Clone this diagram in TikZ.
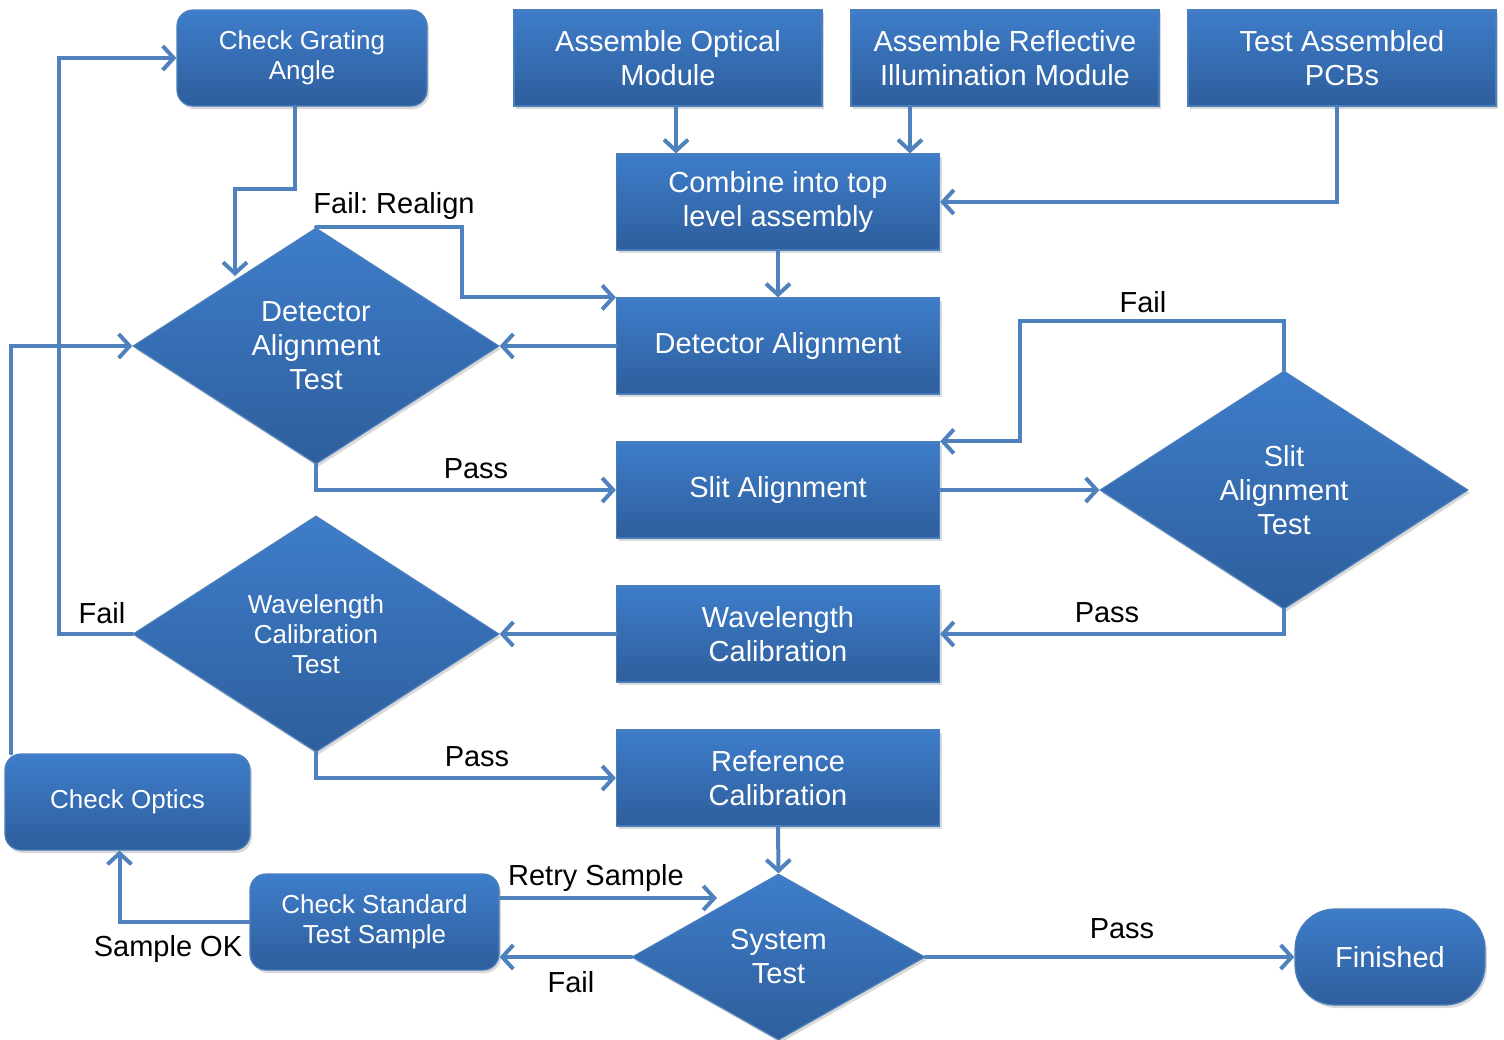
\documentclass[tikz,border=0pt]{standalone}
\usepackage{fontspec}
\setmainfont{Liberation Sans}
\usetikzlibrary{shapes.geometric,arrows.meta,shadows}
\frenchspacing
\definecolor{topblue}{HTML}{3E7DCA}
\definecolor{botblue}{HTML}{2E5E9C}
\definecolor{edgeblue}{HTML}{4A7EBB}
\definecolor{arrblue}{HTML}{4F81BD}
\tikzset{
  blk/.style={top color=topblue, bottom color=botblue, draw=edgeblue, line width=0.6pt,
    text=white, align=center, inner sep=2pt,
    drop shadow={shadow xshift=1pt, shadow yshift=-1.5pt, opacity=0.3}},
  sq/.style={blk, rectangle, minimum width=154pt, minimum height=48pt},
  sqb/.style={blk, rectangle, minimum width=161.5pt, minimum height=48pt},
  rnd/.style={blk, rectangle, rounded corners=8pt, minimum height=48pt},
  dia/.style={blk, diamond, inner sep=0pt, aspect=1.5},
  big/.style={font=\fontsize{14.5}{17}\selectfont},
  small/.style={font=\fontsize{13}{15}\selectfont},
  lbl/.style={font=\fontsize{14.5}{17}\selectfont, text=black, inner sep=0pt},
  arr/.style={draw=arrblue, line width=2pt, line cap=round,
    -{Straight Barb[length=5.5pt,width=12pt,line width=2pt]}},
}
\begin{document}
\begin{tikzpicture}[x=0.5pt,y=-0.5pt]
\useasboundingbox (0,0) rectangle (1504,1039);
% nodes
\node[rnd, small, minimum width=125pt] (cga) at (302,58) {Check Grating\\Angle};
\node[sq, big] (aom) at (668,58) {Assemble Optical\\Module};
\node[sq, big] (aim) at (1005,58) {Assemble Reflective\\Illumination Module};
\node[sq, big] (tpc) at (1342,58) {Test Assembled\\PCBs};
\node[sqb, big] (cmb) at (778,202) {Combine into top\\level assembly};
\node[sqb, big] (da) at (778,346) {\raisebox{-1.5pt}{Detector Alignment}};
\node[dia, big, minimum width=183pt, minimum height=118pt] (dat) at (316,346) {Detector\\Alignment\\Test};
\node[sqb, big] (sa) at (778,490) {\raisebox{-1.5pt}{Slit Alignment}};
\node[dia, big, minimum width=184pt, minimum height=119pt] (sat) at (1284,490) {Slit\\Alignment\\Test};
\node[sqb, big] (wc) at (778,634) {Wavelength\\Calibration};
\node[dia, small, minimum width=183pt, minimum height=118pt] (wct) at (316,634) {Wavelength\\Calibration\\Test};
\node[sqb, big] (rc) at (778,778) {Reference\\Calibration};
\node[rnd, small, minimum width=122.5pt] (co) at (127.5,802) {\raisebox{-1pt}{Check Optics}};
\node[rnd, small, minimum width=124.5pt] (cst) at (374.5,922) {Check Standard\\Test Sample};
\node[dia, big, minimum width=146.5pt, minimum height=83pt] (st) at (778.5,957) {System\\Test};
\node[blk, rectangle, rounded corners=20pt, big, minimum width=95pt, minimum height=48pt] (fin) at (1390,957) {\raisebox{-1pt}{Finished}};
% coordinates
\coordinate (datin) at (235,276);
\coordinate (retryend) at (717,898);
% connectors
\draw[arr] ([xshift=-3.5pt]cga.south) -- ++(0,82) -| (datin);
\draw[arr] ([xshift=4pt]aom.south) -- ([xshift=4pt]aom.south |- cmb.north);
\draw[arr] ([xshift=-47.5pt]aim.south) -- ([xshift=-47.5pt]aim.south |- cmb.north);
\draw[arr] ([xshift=-2.5pt]tpc.south) |- (cmb.east);
\draw[arr] (cmb.south) -- (da.north);
\draw[arr] (dat.north) -- ++(146,0) |- (da.north west);
\draw[arr] (da.west) -- (dat.east);
\draw[arr] (dat.south) |- (sa.west);
\draw[arr] (sa.east) -- (sat.west);
\draw[arr] (sat.north) |- (1020,321) |- (sa.north east);
\draw[arr] (sat.south) |- (wc.east);
\draw[arr] (wc.west) -- (wct.east);
\draw[arr] (wct.west) -- ++(-73,0) |- (cga.west);
\draw[arr] (wct.south) |- (rc.west);
\draw[arr] (rc.south) -- (st.north);
\draw[arr] (st.west) -- (cst.east |- st.west);
\draw[arr] ([yshift=12pt]cst.east) -- (retryend);
\draw[arr] (cst.west) -| ([xshift=-4pt]co.south);
\draw[arr] ([xshift=3.5pt]co.north west) |- (dat.west);
\draw[arr] (st.east) -- (fin.west);
% labels
\node[lbl] (l1) at (394,206) {Fail: Realign};
\node[lbl] (l2) at (476,469) {Pass};
\node[lbl] (l3) at (1143,302) {Fail};
\node[lbl] (l4) at (1107,613) {Pass};
\node[lbl] (l5) at (102,613) {Fail};
\node[lbl] (l6) at (477,757) {Pass};
\node[lbl] (l7) at (596,878) {Retry Sample};
\node[lbl] (l8) at (168,949) {Sample OK};
\node[lbl] (l9) at (571,982) {Fail};
\node[lbl] (l10) at (1122,929) {Pass};
\end{tikzpicture}
\end{document}
